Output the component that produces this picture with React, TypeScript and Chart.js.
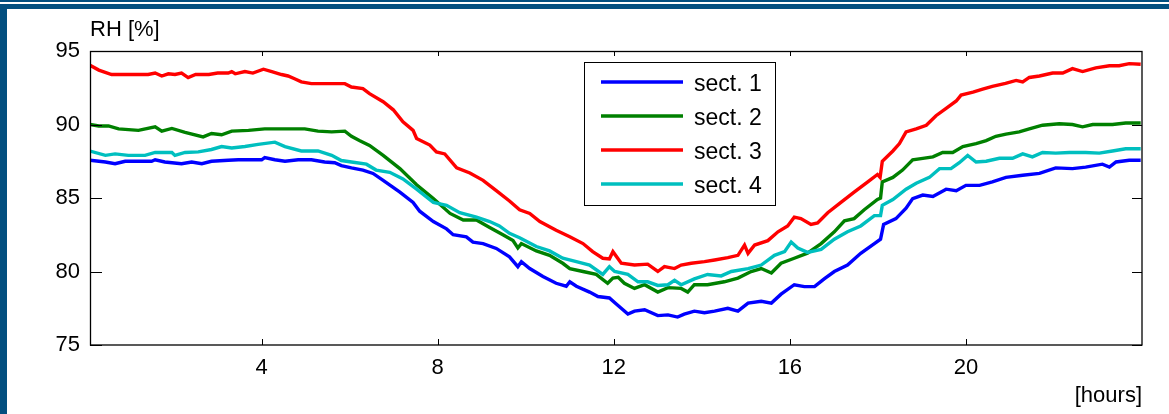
import React, { useEffect, useRef } from "react";
import { Chart, registerables } from "chart.js";

Chart.register(...registerables);

// ---- data ----
const s1Hours = [0.1, 0.45, 0.67, 0.9, 1.5, 1.58, 1.8, 2.18, 2.41, 2.64, 2.86, 3.24, 3.47, 4.0, 4.07, 4.3, 4.53, 4.83, 5.13, 5.43, 5.66, 5.81, 6.04, 6.3, 6.53, 6.76, 7.14, 7.44, 7.59, 7.9, 8.2, 8.35, 8.65, 8.8, 9.03, 9.33, 9.63, 9.82, 9.9, 10.09, 10.39, 10.69, 10.92, 11.0, 11.15, 11.45, 11.64, 11.9, 12.05, 12.32, 12.47, 12.7, 13.0, 13.23, 13.45, 13.6, 13.83, 14.06, 14.29, 14.59, 14.82, 15.05, 15.35, 15.58, 15.8, 16.1, 16.33, 16.56, 16.78, 17.01, 17.31, 17.61, 17.92, 18.06, 18.13, 18.41, 18.64, 18.79, 19.02, 19.25, 19.55, 19.78, 20.0, 20.31, 20.6, 20.91, 21.29, 21.67, 22.04, 22.42, 22.72, 23.1, 23.26, 23.41, 23.71, 23.97];
const s1RH = [87.57, 87.45, 87.33, 87.5, 87.5, 87.6, 87.45, 87.33, 87.45, 87.33, 87.5, 87.57, 87.6, 87.6, 87.75, 87.6, 87.5, 87.6, 87.6, 87.45, 87.4, 87.2, 87.05, 86.9, 86.67, 86.2, 85.4, 84.7, 84.1, 83.4, 82.9, 82.5, 82.36, 82.0, 81.9, 81.57, 81.0, 80.33, 80.67, 80.2, 79.66, 79.2, 79.0, 79.3, 79.0, 78.6, 78.3, 78.2, 77.8, 77.1, 77.3, 77.4, 77.0, 77.05, 76.9, 77.1, 77.3, 77.2, 77.3, 77.5, 77.3, 77.85, 77.97, 77.85, 78.46, 79.1, 78.97, 78.97, 79.5, 80.0, 80.44, 81.24, 81.9, 82.2, 83.2, 83.6, 84.3, 84.96, 85.2, 85.1, 85.6, 85.5, 85.86, 85.86, 86.1, 86.4, 86.55, 86.67, 87.05, 87.0, 87.1, 87.3, 87.1, 87.45, 87.57, 87.57];

const s2Hours = [0.1, 0.3, 0.52, 0.75, 1.2, 1.58, 1.73, 1.96, 2.26, 2.67, 2.86, 3.09, 3.32, 3.7, 4.07, 4.53, 4.98, 5.28, 5.59, 5.89, 6.04, 6.23, 6.45, 6.76, 7.14, 7.52, 7.9, 8.28, 8.58, 8.88, 9.18, 9.48, 9.71, 9.82, 9.9, 10.24, 10.54, 10.84, 11.0, 11.3, 11.6, 11.86, 11.98, 12.1, 12.24, 12.47, 12.7, 13.0, 13.23, 13.53, 13.68, 13.83, 14.13, 14.51, 14.82, 15.12, 15.35, 15.58, 15.8, 16.1, 16.4, 16.71, 17.01, 17.24, 17.46, 17.69, 17.99, 18.06, 18.1, 18.34, 18.56, 18.79, 19.02, 19.25, 19.47, 19.7, 19.93, 20.23, 20.46, 20.68, 20.91, 21.21, 21.44, 21.74, 22.12, 22.42, 22.65, 22.88, 23.33, 23.63, 23.97];
const s2RH = [90.0, 89.9, 89.9, 89.7, 89.6, 89.84, 89.55, 89.73, 89.46, 89.16, 89.39, 89.3, 89.55, 89.6, 89.7, 89.7, 89.7, 89.55, 89.5, 89.55, 89.2, 88.9, 88.58, 87.9, 87.0, 85.9, 84.96, 83.95, 83.5, 83.5, 83.0, 82.5, 82.1, 81.6, 81.9, 81.4, 81.1, 80.56, 80.2, 80.0, 79.8, 79.2, 79.55, 79.6, 79.2, 78.85, 79.1, 78.6, 78.9, 78.85, 78.6, 79.1, 79.1, 79.3, 79.55, 80.0, 80.2, 79.9, 80.56, 80.9, 81.25, 81.9, 82.7, 83.45, 83.6, 84.2, 84.9, 85.0, 86.1, 86.4, 86.9, 87.6, 87.7, 87.8, 88.1, 88.1, 88.5, 88.7, 88.9, 89.2, 89.35, 89.5, 89.7, 89.95, 90.05, 90.0, 89.84, 90.0, 90.0, 90.1, 90.1];

const s3Hours = [0.1, 0.3, 0.59, 1.0, 1.42, 1.58, 1.73, 1.88, 2.03, 2.18, 2.33, 2.5, 2.8, 3.0, 3.24, 3.32, 3.4, 3.62, 3.8, 4.04, 4.23, 4.45, 4.6, 4.76, 4.9, 5.13, 5.5, 5.89, 6.04, 6.3, 6.45, 6.76, 6.99, 7.21, 7.44, 7.52, 7.82, 7.97, 8.16, 8.43, 8.73, 9.03, 9.33, 9.63, 9.86, 10.09, 10.32, 10.69, 11.0, 11.3, 11.52, 11.75, 11.9, 11.98, 12.17, 12.47, 12.77, 13.0, 13.15, 13.38, 13.53, 13.76, 14.06, 14.29, 14.59, 14.82, 14.97, 15.05, 15.2, 15.5, 15.73, 15.95, 16.1, 16.25, 16.48, 16.63, 16.86, 17.16, 17.46, 17.77, 17.99, 18.05, 18.1, 18.34, 18.49, 18.64, 18.87, 19.1, 19.32, 19.55, 19.78, 19.89, 20.16, 20.38, 20.6, 20.9, 21.14, 21.29, 21.44, 21.67, 21.97, 22.2, 22.42, 22.65, 22.95, 23.26, 23.48, 23.71, 23.97];
const s3RH = [94.03, 93.7, 93.4, 93.4, 93.4, 93.5, 93.3, 93.45, 93.4, 93.5, 93.19, 93.4, 93.4, 93.5, 93.5, 93.6, 93.45, 93.6, 93.5, 93.76, 93.6, 93.4, 93.3, 93.1, 92.9, 92.78, 92.78, 92.78, 92.55, 92.44, 92.1, 91.55, 91.0, 90.18, 89.6, 89.05, 88.6, 88.14, 88.0, 87.05, 86.7, 86.2, 85.5, 84.8, 84.2, 83.95, 83.4, 82.8, 82.36, 81.9, 81.35, 80.9, 80.85, 81.35, 80.56, 80.44, 80.5, 80.0, 80.33, 80.2, 80.44, 80.56, 80.67, 80.78, 80.94, 81.1, 81.8, 81.23, 81.8, 82.1, 82.7, 83.1, 83.7, 83.6, 83.2, 83.3, 84.0, 84.7, 85.4, 86.1, 86.6, 86.4, 87.5, 88.2, 88.7, 89.5, 89.7, 89.95, 90.6, 91.1, 91.6, 92.0, 92.2, 92.4, 92.6, 92.8, 93.0, 92.9, 93.2, 93.3, 93.5, 93.5, 93.8, 93.6, 93.85, 94.0, 94.0, 94.14, 94.1];

const s4Hours = [0.1, 0.45, 0.67, 0.97, 1.35, 1.58, 1.96, 2.03, 2.26, 2.56, 2.86, 3.09, 3.32, 3.62, 3.92, 4.3, 4.53, 4.9, 5.28, 5.59, 5.81, 6.04, 6.38, 6.6, 6.91, 7.21, 7.52, 7.9, 8.2, 8.5, 8.88, 9.18, 9.4, 9.63, 9.86, 10.24, 10.54, 10.84, 11.15, 11.45, 11.75, 11.9, 12.02, 12.32, 12.55, 12.77, 13.0, 13.23, 13.38, 13.53, 13.83, 14.13, 14.44, 14.67, 15.05, 15.35, 15.65, 15.88, 16.03, 16.18, 16.4, 16.71, 17.01, 17.31, 17.61, 17.92, 18.06, 18.1, 18.34, 18.64, 18.87, 19.17, 19.4, 19.66, 19.85, 20.04, 20.23, 20.46, 20.76, 21.06, 21.29, 21.51, 21.74, 22.04, 22.35, 22.72, 23.03, 23.33, 23.63, 23.97];
const s4RH = [88.19, 87.9, 88.0, 87.9, 87.9, 88.1, 88.1, 87.9, 88.1, 88.14, 88.3, 88.5, 88.4, 88.5, 88.65, 88.8, 88.5, 88.2, 88.2, 87.9, 87.55, 87.45, 87.3, 86.9, 86.75, 86.3, 85.6, 84.7, 84.5, 84.0, 83.7, 83.4, 83.1, 82.6, 82.3, 81.7, 81.4, 80.9, 80.67, 80.44, 79.8, 80.33, 80.0, 79.8, 79.3, 79.3, 79.05, 79.1, 79.4, 79.1, 79.5, 79.8, 79.7, 80.0, 80.2, 80.44, 81.1, 81.35, 82.0, 81.6, 81.3, 81.5, 82.2, 82.7, 83.1, 83.8, 83.8, 84.5, 84.9, 85.6, 86.0, 86.4, 87.0, 87.0, 87.4, 87.9, 87.45, 87.5, 87.7, 87.7, 88.0, 87.8, 88.1, 88.05, 88.1, 88.1, 88.05, 88.2, 88.35, 88.35];

const seriesLabels = ["sect. 1", "sect. 2", "sect. 3", "sect. 4"];
const xTicks = [4, 8, 12, 16, 20];
const xTickLabels = ["4", "8", "12", "16", "20"];
const yTicks = [75, 80, 85, 90, 95];
const yTickLabels = ["75", "80", "85", "90", "95"];
const xRange = [0.1, 24];
const yRange = [75, 95];
const yAxisLabel = "RH [%]";
const xAxisLabel = "[hours]";

// ---- styles ----
const colors = ["#0000ff", "#008000", "#ff0000", "#00bfbf"];
const FONT_FAMILY = '"Liberation Sans", Arial, sans-serif';
const FONT_SIZE = 22;
const LEGEND_FONT_SIZE = 23;
const FRAME_BLUE = "#034f7f";
const W = 1169;
const H = 414;

export default function App() {
  const canvasRef = useRef<HTMLCanvasElement | null>(null);

  useEffect(() => {
    const canvas = canvasRef.current;
    if (!canvas) return;

    const hoursList = [s1Hours, s2Hours, s3Hours, s4Hours];
    const rhList = [s1RH, s2RH, s3RH, s4RH];

    const decorPlugin = {
      id: "decor",
      beforeDraw(chart: any) {
        const ctx = chart.ctx;
        ctx.save();
        ctx.fillStyle = "#ffffff";
        ctx.fillRect(0, 0, W, H);
        ctx.fillStyle = FRAME_BLUE;
        ctx.fillRect(0, 0, W, 2);
        ctx.fillRect(0, 4, W, 5);
        ctx.fillRect(0, 4, 7, H - 4);
        ctx.restore();
      },
      afterDatasetsDraw(chart: any) {
        const ctx = chart.ctx;
        const a = chart.chartArea;
        const xs = chart.scales.x;
        const ys = chart.scales.y;
        ctx.save();
        // box
        ctx.strokeStyle = "#000";
        ctx.lineWidth = 1.3;
        ctx.strokeRect(Math.round(a.left) + 0.5, Math.round(a.top) + 0.5, Math.round(a.right - a.left) - 0.5, Math.round(a.bottom - a.top) - 0.5);
        // inward ticks
        ctx.lineWidth = 1;
        ctx.beginPath();
        xTicks.forEach((v) => {
          const px = Math.round(xs.getPixelForValue(v)) + 0.5;
          ctx.moveTo(px, a.bottom);
          ctx.lineTo(px, a.bottom - 6);
          ctx.moveTo(px, a.top);
          ctx.lineTo(px, a.top + 5);
        });
        yTicks.forEach((v) => {
          const py = Math.round(ys.getPixelForValue(v)) + 0.5;
          ctx.moveTo(a.left, py);
          ctx.lineTo(a.left + 12, py);
          ctx.moveTo(a.right, py);
          ctx.lineTo(a.right - 10, py);
        });
        ctx.stroke();

        // y axis label
        ctx.fillStyle = "#000";
        ctx.font = `${FONT_SIZE}px ${FONT_FAMILY}`;
        ctx.textAlign = "left";
        ctx.textBaseline = "alphabetic";
        ctx.fillText(yAxisLabel, 90, 36);

        // legend
        const lx = 584, ly = 62, lw = 191, lh = 143;
        ctx.fillStyle = "#fff";
        ctx.fillRect(lx, ly, lw, lh);
        ctx.strokeStyle = "#000";
        ctx.lineWidth = 1;
        ctx.strokeRect(lx + 0.5, ly + 0.5, lw, lh);
        ctx.font = `${LEGEND_FONT_SIZE}px ${FONT_FAMILY}`;
        chart.data.datasets.forEach((ds: any, i: number) => {
          const y = 82 + i * 34;
          ctx.strokeStyle = ds.borderColor;
          ctx.lineWidth = 3.5;
          ctx.beginPath();
          ctx.moveTo(601, y);
          ctx.lineTo(683, y);
          ctx.stroke();
          ctx.fillStyle = "#000";
          ctx.fillText(ds.label, 694, y + 9);
        });
        ctx.restore();
      },
    };

    const chart = new Chart(canvas, {
      type: "line",
      data: {
        datasets: seriesLabels.map((label, i) => ({
          label,
          data: hoursList[i].map((h, j) => ({ x: h, y: rhList[i][j] })),
          borderColor: colors[i],
          backgroundColor: colors[i],
          borderWidth: 3.4,
          pointRadius: 0,
          tension: 0,
          fill: false,
          order: seriesLabels.length - 1 - i,
        })),
      },
      options: {
        responsive: false,
        animation: false,
        events: [],
        layout: { padding: { left: 0, top: 51, right: 27, bottom: 0 } },
        plugins: {
          legend: { display: false },
          tooltip: { enabled: false },
          title: { display: false },
        },
        scales: {
          x: {
            type: "linear",
            min: xRange[0],
            max: xRange[1],
            grid: { display: false, drawTicks: false },
            border: { display: false },
            afterFit: (s: any) => {
              s.height = 69;
            },
            afterBuildTicks: (s: any) => {
              s.ticks = xTicks.map((v) => ({ value: v }));
            },
            ticks: {
              padding: 10,
              color: "#000",
              font: { family: FONT_FAMILY, size: FONT_SIZE },
              maxRotation: 0,
              callback: (v: any) => {
                const i = xTicks.indexOf(Number(v));
                return i >= 0 ? xTickLabels[i] : "";
              },
            },
            title: {
              display: true,
              text: xAxisLabel,
              align: "end",
              color: "#000",
              font: { family: FONT_FAMILY, size: FONT_SIZE },
              padding: { top: 0, bottom: 5 },
            },
          },
          y: {
            type: "linear",
            min: yRange[0],
            max: yRange[1],
            grid: { display: false, drawTicks: false },
            border: { display: false },
            afterFit: (s: any) => {
              s.width = 90;
            },
            afterBuildTicks: (s: any) => {
              s.ticks = yTicks.map((v) => ({ value: v }));
            },
            ticks: {
              padding: 10,
              color: "#000",
              font: { family: FONT_FAMILY, size: FONT_SIZE },
              callback: (v: any) => {
                const i = yTicks.indexOf(Number(v));
                return i >= 0 ? yTickLabels[i] : "";
              },
            },
          },
        },
      },
      plugins: [decorPlugin],
    } as any);

    return () => chart.destroy();
  }, []);

  return (
    <div style={{ position: "fixed", left: 0, top: 0, width: W, height: H, background: "#fff" }}>
      <canvas ref={canvasRef} width={W} height={H} style={{ display: "block", width: W, height: H }} />
    </div>
  );
}
